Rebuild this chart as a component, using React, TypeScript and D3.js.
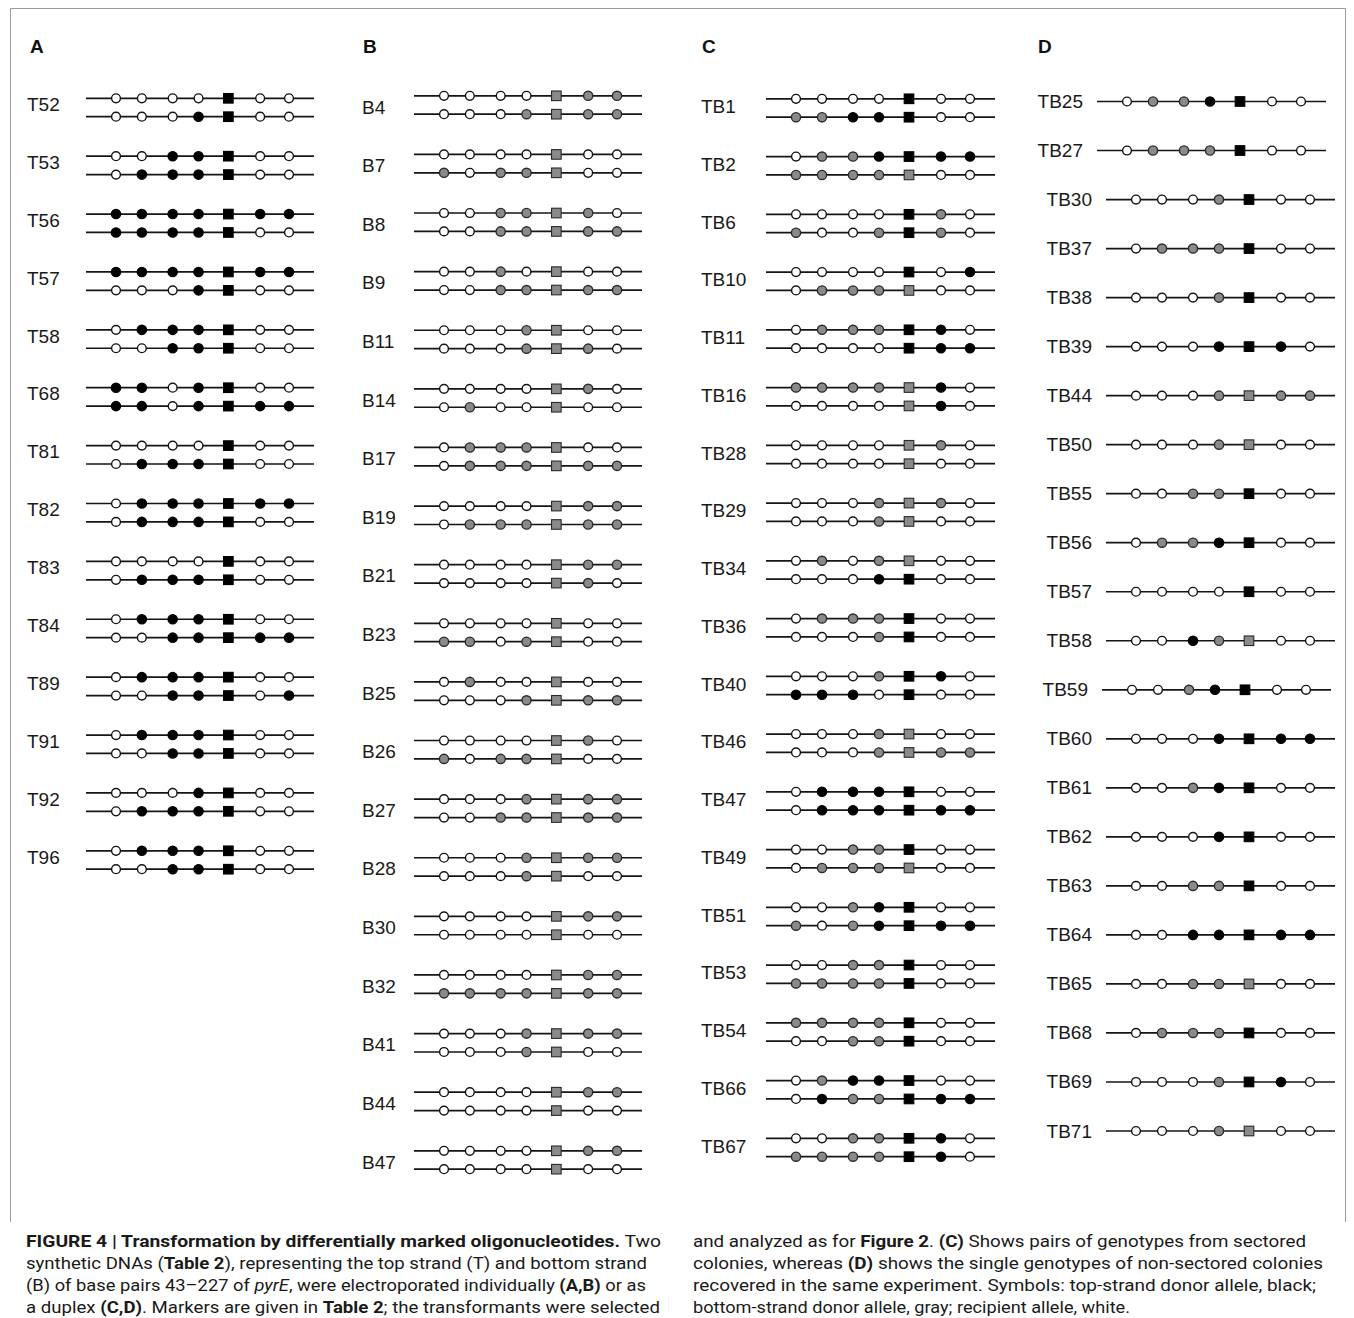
import * as d3 from "d3";

// allele codes per marker site: o = recipient (white), t = top-strand donor (black), b = bottom-strand donor (gray)
// 5th site of each string is the square marker

const markerSites = [0, 26, 57, 83, 113, 145, 174];
const squareIndex = 4;

// panel A: top strand oligo, pairs of genotypes
const labelsA = ["T52", "T53", "T56", "T57", "T58", "T68", "T81", "T82", "T83", "T84", "T89", "T91", "T92", "T96"];
const topA = ["ooootoo", "ootttoo", "ttttttt", "ttttttt", "ottttoo", "ttottoo", "ooootoo", "otttttt", "ooootoo", "ottttoo", "ottttoo", "ottttoo", "ooottoo", "ottttoo"];
const botA = ["ooottoo", "ottttoo", "tttttoo", "ooottoo", "ootttoo", "ttotttt", "ottttoo", "ottttoo", "ottttoo", "oottttt", "ootttot", "ootttoo", "ottttoo", "ootttoo"];

// panel B: bottom strand oligo
const labelsB = ["B4", "B7", "B8", "B9", "B11", "B14", "B17", "B19", "B21", "B23", "B25", "B26", "B27", "B28", "B30", "B32", "B41", "B44", "B47"];
const topB = ["oooobbb", "ooooboo", "oobbbbo", "ooboboo", "ooobboo", "oooobbo", "obbbboo", "oooobbb", "oooobbb", "ooooboo", "obooboo", "oooobbo", "ooobbbb", "ooobbbb", "oooobbb", "oooobbb", "ooobbbb", "oooobbb", "oooobbb"];
const botB = ["ooobbbb", "bobbboo", "oobbbbb", "oobbbbb", "ooobbbo", "obooboo", "obbbbbb", "obbbbbb", "oooobbo", "bbobboo", "ooobbbb", "bobbboo", "oobbbbb", "ooobboo", "ooooboo", "bbbbbbb", "ooobboo", "ooooboo", "ooooboo"];

// panel C: duplex, sectored colonies
const labelsC = ["TB1", "TB2", "TB6", "TB10", "TB11", "TB16", "TB28", "TB29", "TB34", "TB36", "TB40", "TB46", "TB47", "TB49", "TB51", "TB53", "TB54", "TB66", "TB67"];
const topC = ["ooootoo", "obbtttt", "ooootbo", "ooootot", "obbbtto", "bbbbbto", "oooobbo", "ooobbbo", "obobboo", "obbbtoo", "ooobtto", "ooobboo", "ottttoo", "oobbtoo", "oobttoo", "oobbtoo", "bbbbtoo", "obtttoo", "oobbtto"];
const botC = ["bbtttoo", "bbbbboo", "boobtbo", "obbbboo", "oooottt", "oooobto", "ooooboo", "ooobboo", "ooottoo", "ooobtoo", "tttotoo", "ooobbbb", "otttttt", "obbbboo", "bobtttt", "bbbbtoo", "oobbtoo", "otbbttt", "bbbbtto"];

// panel D: duplex, non-sectored colonies
const labelsD = ["TB25", "TB27", "TB30", "TB37", "TB38", "TB39", "TB44", "TB50", "TB55", "TB56", "TB57", "TB58", "TB59", "TB60", "TB61", "TB62", "TB63", "TB64", "TB65", "TB68", "TB69", "TB71"];
const genoD = ["obbttoo", "obbbtoo", "ooobtoo", "obbbtoo", "ooobtoo", "ooottto", "ooobbbb", "ooobboo", "oobbtoo", "obbttoo", "ooootoo", "ootbboo", "oobttoo", "oootttt", "oobttoo", "ooottoo", "oobbtoo", "oottttt", "oobbboo", "obbbtoo", "ooobtto", "ooobboo"];

const fills: Record<string, string> = { o: "#ffffff", t: "#000000", b: "#8a8a8a" };
const strokes: Record<string, string> = { o: "#141414", t: "#000000", b: "#2a2a2a" };

const labelFont = "'Liberation Sans', Arial, sans-serif";

function Strand({ geno, y, x }: { geno: string; y: number; x: d3.ScaleLinear<number, number> }) {
  const x0 = x(markerSites[0]) - 30;
  const x1 = x(markerSites[markerSites.length - 1]) + 25;
  return (
    <g>
      <line x1={x0} x2={x1} y1={y} y2={y} stroke="#151515" strokeWidth={1.7} />
      {markerSites.map((s, i) => {
        const c = geno[i];
        if (i === squareIndex) {
          return (
            <rect key={i} x={x(s) - 4.8} y={y - 4.8} width={9.6} height={9.6}
              fill={fills[c]} stroke={strokes[c]} strokeWidth={1.1} />
          );
        }
        return (
          <circle key={i} cx={x(s)} cy={y} r={c === "o" ? 4.4 : 4.6}
            fill={fills[c]} stroke={strokes[c]} strokeWidth={1.4} />
        );
      })}
    </g>
  );
}

function PairPanel({ letter, letterX, labels, tops, bots, xRange, yRange, labelX, labelDy }: any) {
  const x = d3.scaleLinear().domain([markerSites[0], markerSites[markerSites.length - 1]]).range(xRange);
  const y = d3.scalePoint<string>().domain(labels).range(yRange);
  return (
    <g>
      <text x={letterX} y={53} fontFamily={labelFont} fontWeight="bold" fontSize={19} fill="#111">{letter}</text>
      {labels.map((lab: string, i: number) => {
        const cy = y(lab) as number;
        return (
          <g key={lab}>
            <text x={labelX} y={cy + labelDy} dominantBaseline="central" fontFamily={labelFont} fontSize={19} fill="#1a1a1a">{lab}</text>
            <Strand geno={tops[i]} y={cy - 9.2} x={x} />
            <Strand geno={bots[i]} y={cy + 9.2} x={x} />
          </g>
        );
      })}
    </g>
  );
}

// small horizontal nudges of single rows in panel D, as drawn in the source figure
const nudgeD: Record<string, number> = { TB25: -9, TB27: -9, TB59: -4 };

function SinglePanel({ letter, letterX, labels, genos, xRange, yRange }: any) {
  const y = d3.scalePoint<string>().domain(labels).range(yRange);
  return (
    <g>
      <text x={letterX} y={53} fontFamily={labelFont} fontWeight="bold" fontSize={19} fill="#111">{letter}</text>
      {labels.map((lab: string, i: number) => {
        const cy = y(lab) as number;
        const n = nudgeD[lab] || 0;
        const x = d3.scaleLinear().domain([markerSites[0], markerSites[markerSites.length - 1]]).range([xRange[0] + n, xRange[1] + n]);
        return (
          <g key={lab}>
            <text x={x(markerSites[0]) - 44} y={cy} textAnchor="end" dominantBaseline="central" fontFamily={labelFont} fontSize={19} fill="#1a1a1a">{lab}</text>
            <Strand geno={genos[i]} y={cy} x={x} />
          </g>
        );
      })}
    </g>
  );
}

const captionFont = "'Liberation Sans Narrow', 'Roboto', 'Liberation Sans', sans-serif";

function Caption() {
  const fs = 16.5;
  const ys = [1247, 1269, 1291, 1313];
  return (
    <g fontFamily={captionFont} fontSize={fs} fill="#1a1a1a">
      <text x={26} y={ys[0]} textLength={635} lengthAdjust="spacingAndGlyphs">
        <tspan fontWeight="bold">FIGURE 4 | Transformation by differentially marked oligonucleotides.</tspan> Two
      </text>
      <text x={26} y={ys[1]} textLength={621} lengthAdjust="spacingAndGlyphs">
        synthetic DNAs (<tspan fontWeight="bold">Table 2</tspan>), representing the top strand (T) and bottom strand
      </text>
      <text x={26} y={ys[2]} textLength={620} lengthAdjust="spacingAndGlyphs">
        (B) of base pairs 43–227 of <tspan fontStyle="italic">pyrE</tspan>, were electroporated individually <tspan fontWeight="bold">(A,B)</tspan> or as
      </text>
      <text x={26} y={ys[3]} textLength={634} lengthAdjust="spacingAndGlyphs">
        a duplex <tspan fontWeight="bold">(C,D)</tspan>. Markers are given in <tspan fontWeight="bold">Table 2</tspan>; the transformants were selected
      </text>
      <text x={693} y={ys[0]} textLength={613} lengthAdjust="spacingAndGlyphs">
        and analyzed as for <tspan fontWeight="bold">Figure 2</tspan>. <tspan fontWeight="bold">(C)</tspan> Shows pairs of genotypes from sectored
      </text>
      <text x={693} y={ys[1]} textLength={630} lengthAdjust="spacingAndGlyphs">
        colonies, whereas <tspan fontWeight="bold">(D)</tspan> shows the single genotypes of non-sectored colonies
      </text>
      <text x={693} y={ys[2]} textLength={623} lengthAdjust="spacingAndGlyphs">
        recovered in the same experiment. Symbols: top-strand donor allele, black;
      </text>
      <text x={693} y={ys[3]} textLength={437} lengthAdjust="spacingAndGlyphs">
        bottom-strand donor allele, gray; recipient allele, white.
      </text>
    </g>
  );
}

export default function App() {
  return (
    <svg width={1354} height={1318} style={{ position: "absolute", left: 0, top: 0, background: "#fff" }}>
      <rect x={0} y={0} width={1354} height={1318} fill="#fff" />
      <path d="M10.5,1222 V8.5 H1345.5 V1222" fill="none" stroke="#9a9a9a" strokeWidth={1} />
      <PairPanel letter="A" letterX={30} labels={labelsA} tops={topA} bots={botA}
        xRange={[116, 289]} yRange={[107.5, 860]} labelX={27} labelDy={-3} />
      <PairPanel letter="B" letterX={363} labels={labelsB} tops={topB} bots={botB}
        xRange={[444, 617]} yRange={[105, 1160]} labelX={362} labelDy={2} />
      <PairPanel letter="C" letterX={702} labels={labelsC} tops={topC} bots={botC}
        xRange={[796, 970]} yRange={[108, 1147.5]} labelX={701} labelDy={-1.5} />
      <SinglePanel letter="D" letterX={1038} labels={labelsD} genos={genoD}
        xRange={[1136, 1310]} yRange={[101.5, 1131]} />
      <Caption />
    </svg>
  );
}
